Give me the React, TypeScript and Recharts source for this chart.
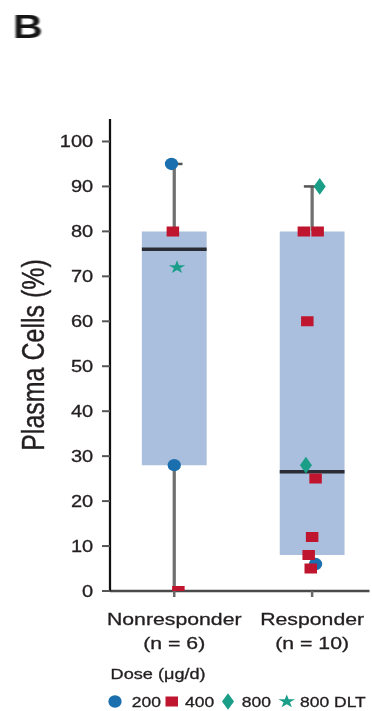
import React from 'react';
import { ComposedChart, XAxis, YAxis, Scatter, ReferenceArea, ReferenceLine, Symbols } from 'recharts';

// ---- data ----
const groups = ['Nonresponder', 'Responder'];
const groupCounts = ['(n = 6)', '(n = 10)'];
const groupPos = [1, 2];

const q1 = [28, 8];
const median = [76, 26.5];
const q3 = [80, 80];
const whiskerLow = [0, 5];
const whiskerHigh = [95, 90];

const yTicks = [0, 10, 20, 30, 40, 50, 60, 70, 80, 90, 100];

const dose200 = [
  { x: 0.98, y: 95 },
  { x: 1.0, y: 28 },
  { x: 2.025, y: 6 },
];
const dose400 = [
  { x: 0.99, y: 80 },
  { x: 1.03, y: 0 },
  { x: 1.94, y: 80 },
  { x: 2.04, y: 80 },
  { x: 1.965, y: 60 },
  { x: 2.025, y: 25 },
  { x: 2.0, y: 12 },
  { x: 1.975, y: 8 },
  { x: 1.99, y: 5 },
];
const dose800 = [
  { x: 2.055, y: 90 },
  { x: 1.955, y: 28 },
];
const dose800DLT = [{ x: 1.02, y: 72 }];

const seriesNames = ['200', '400', '800', '800 DLT'];
const seriesData = [dose200, dose400, dose800, dose800DLT];

// ---- styles ----
const FONT = '"Liberation Sans", Arial, sans-serif';
const TEXT = '#231f20';
const SX = 1.25;
const W = 372 / SX;
const H = 711;
const seriesStyle = [
  { type: 'circle', size: 104, color: '#1b6fae' },
  { type: 'square', size: 100, color: '#c0152f' },
  { type: 'diamond', size: 80, color: '#1a9e87' },
  { type: 'star', size: 55, color: '#1a9e8a' },
];
const BOX_HALF = 0.235;
const CAP_HALF = 0.06;
const HEAVY = { stroke: TEXT, strokeWidth: 0.3 };

const Marker = ({ cx, cy, type, size, color }: any) =>
  type === 'circle'
    ? <ellipse cx={cx} cy={cy} rx={5.3} ry={6.2} fill={color} />
    : <Symbols cx={cx} cy={cy} type={type} size={size} fill={color} />;

const makeShape = (type: any, size: number, color: string) => (props: any) =>
  <Marker cx={props.cx} cy={props.cy} type={type} size={size} color={color} />;

const XTick = (props: any) => {
  const { x, y, payload } = props;
  const i = groupPos.indexOf(payload.value);
  return (
    <g>
      <text x={x} y={y + 28} textAnchor="middle" fontFamily={FONT} fontSize={17} fill={TEXT} {...HEAVY}>{groups[i]}</text>
      <text x={x} y={y + 52} textAnchor="middle" fontFamily={FONT} fontSize={17} fill={TEXT} {...HEAVY}>{groupCounts[i]}</text>
    </g>
  );
};

const legendIconX = [92, 137.4, 182.4, 229.4];
const legendTextX = [105.4, 148, 193.4, 240];

export default function App() {
  return (
    <div style={{ position: 'absolute', left: 0, top: 0, width: 372, height: H, overflow: 'hidden', background: '#fff' }}>
      <div style={{ position: 'absolute', left: 0, top: 0, width: W, height: H, transform: `scaleX(${SX})`, transformOrigin: '0 0' }}>
        <ComposedChart width={W} height={H} margin={{ top: 119, right: 2, bottom: 0, left: 0 }}>
          <XAxis
            type="number"
            dataKey="x"
            domain={[0.534, 2.416]}
            ticks={groupPos}
            allowDataOverflow
            height={120}
            tickSize={6}
            tickMargin={0}
            axisLine={{ stroke: '#4a4a4a', strokeWidth: 2.5 }}
            tickLine={{ stroke: '#6a6a6a', strokeWidth: 2 }}
            tick={<XTick />}
          />
          <YAxis
            type="number"
            dataKey="y"
            domain={[0, 105]}
            ticks={yTicks}
            allowDataOverflow
            width={88}
            tickSize={6.4}
            tickMargin={7}
            axisLine={{ stroke: '#111', strokeWidth: 1.8 }}
            tickLine={{ stroke: '#555', strokeWidth: 2 }}
            tick={{ fill: TEXT, fontSize: 16, fontFamily: FONT, ...HEAVY }}
          />
          {groupPos.map((g, i) => (
            <ReferenceArea
              key={'box' + i}
              x1={g - BOX_HALF}
              x2={g + BOX_HALF}
              y1={q1[i]}
              y2={q3[i]}
              fill="#a9bfdd"
              fillOpacity={1}
              stroke="none"
            />
          ))}
          {groupPos.map((g, i) => (
            <ReferenceLine key={'wu' + i} segment={[{ x: g, y: q3[i] }, { x: g, y: whiskerHigh[i] }]} stroke="#707070" strokeWidth={2.6} />
          ))}
          {groupPos.map((g, i) => (
            <ReferenceLine key={'wl' + i} segment={[{ x: g, y: whiskerLow[i] }, { x: g, y: q1[i] }]} stroke="#707070" strokeWidth={2.6} />
          ))}
          {groupPos.map((g, i) => (
            <ReferenceLine key={'cu' + i} segment={[{ x: g - CAP_HALF, y: whiskerHigh[i] }, { x: g + CAP_HALF, y: whiskerHigh[i] }]} stroke="#555" strokeWidth={2.5} />
          ))}
          {groupPos.map((g, i) => (
            <ReferenceLine key={'med' + i} segment={[{ x: g - BOX_HALF, y: median[i] }, { x: g + BOX_HALF, y: median[i] }]} stroke="#2a2d33" strokeWidth={3.5} />
          ))}
          {seriesData.map((d, i) => (
            <Scatter
              key={seriesNames[i]}
              name={seriesNames[i]}
              data={d}
              fill={seriesStyle[i].color}
              shape={makeShape(seriesStyle[i].type, seriesStyle[i].size, seriesStyle[i].color)}
              isAnimationActive={false}
            />
          ))}
        </ComposedChart>
        <svg width={W} height={H} style={{ position: 'absolute', left: 0, top: 0, pointerEvents: 'none' }}>
          <text x={10.4} y={38} fontFamily={FONT} fontWeight="bold" fontSize={33} fill="#151515" style={{ filter: 'blur(0.7px)' }}>B</text>
          <text transform="translate(34.8,355) rotate(-90)" textAnchor="middle" fontFamily={FONT} fontSize={25} fill={TEXT} {...HEAVY}>Plasma Cells (%)</text>
          <text x={88.5} y={679} fontFamily={FONT} fontSize={14.5} fill={TEXT} {...HEAVY}>Dose (μg/d)</text>
          {seriesNames.map((n, i) => (
            <g key={n}>
              <Marker cx={legendIconX[i]} cy={701.5} type={seriesStyle[i].type} size={seriesStyle[i].size} color={seriesStyle[i].color} />
              <text x={legendTextX[i]} y={707} fontFamily={FONT} fontSize={14} fill={TEXT} {...HEAVY}>{n}</text>
            </g>
          ))}
        </svg>
      </div>
    </div>
  );
}
